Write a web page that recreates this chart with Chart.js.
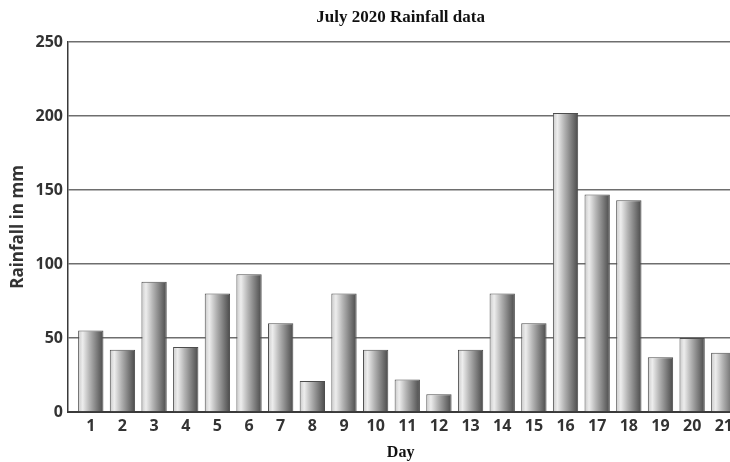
<!DOCTYPE html>
<html>
<head>
<meta charset="utf-8">
<title>July 2020 Rainfall data</title>
<script src="https://cdn.jsdelivr.net/npm/chart.js@4/dist/chart.umd.min.js"></script>
<style>
  html, body { margin: 0; padding: 0; background: #ffffff; overflow: hidden; }
  #wrap { position: relative; width: 738px; height: 462px; }
</style>
</head>
<body>
<div id="wrap"><canvas id="chart" width="738" height="462"></canvas></div>
<script>
// Daily rainfall for the first three weeks of July 2020
const days = [1, 2, 3, 4, 5, 6, 7, 8, 9, 10, 11, 12, 13, 14, 15, 16, 17, 18, 19, 20, 21];
const rainfallMm = [55, 42, 88, 44, 80, 93, 60, 21, 80, 42, 22, 12, 42, 80, 60, 202, 147, 143, 37, 50, 40];
const yTicks = [0, 50, 100, 150, 200, 250];

const chartTitle = 'July 2020 Rainfall data';
const xTitle = 'Day';
const yTitle = 'Rainfall in mm';

// Horizontal shaded fill for each bar: light on the left, dark on the right
function barShade(ctx) {
  const chart = ctx.chart;
  const xs = chart.scales && chart.scales.x;
  if (!xs || ctx.type !== 'data') return '#a0a0a0';
  const day = days[ctx.dataIndex];
  const cx = xs.getPixelForValue(day);
  const w = (xs.getPixelForValue(2) - xs.getPixelForValue(1)) * 0.8;
  if (!isFinite(cx) || !isFinite(w) || w <= 0) return '#a0a0a0';
  const g = chart.ctx.createLinearGradient(cx - w / 2, 0, cx + w / 2, 0);
  g.addColorStop(0.0, '#c9c9c9');
  g.addColorStop(0.18, '#ededed');
  g.addColorStop(0.45, '#b4b4b4');
  g.addColorStop(0.8, '#707070');
  g.addColorStop(1.0, '#4a4a4a');
  return g;
}

new Chart(document.getElementById('chart'), {
  type: 'bar',
  data: {
    datasets: [{
      data: days.map((d, i) => ({ x: d, y: rainfallMm[i] })),
      backgroundColor: barShade,
      borderColor: '#4d4d4d',
      borderWidth: 1,
      borderSkipped: 'bottom',
      barPercentage: 1.0,
      categoryPercentage: 0.8
    }]
  },
  options: {
    responsive: false,
    animation: false,
    events: [],
    layout: { padding: { left: 0, right: 0, top: 0, bottom: 0 } },
    plugins: {
      legend: { display: false },
      tooltip: { enabled: false },
      title: {
        display: true,
        text: chartTitle,
        fullSize: false,
        color: '#111111',
        font: { family: '"Liberation Serif", "Times New Roman", serif', size: 17, weight: 'bold' },
        padding: { top: 7, bottom: 14.6 }
      }
    },
    scales: {
      x: {
        type: 'linear',
        offset: false,
        min: 0.28,
        max: 21.3,
        afterBuildTicks: (scale) => { scale.ticks = days.map(d => ({ value: d })); },
        afterFit: (scale) => { scale.height = 50; },
        grid: { display: false, drawTicks: false, offset: false },
        border: { display: true, color: '#3a3a3a', width: 2 },
        ticks: {
          padding: 5,
          color: '#333333',
          autoSkip: false,
          maxRotation: 0,
          font: { family: '"Open Sans", "Noto Sans", sans-serif', size: 16, weight: 'bold' },
          callback: (v) => String(v)
        },
        title: {
          display: true,
          text: xTitle,
          color: '#111111',
          font: { family: '"Liberation Serif", "Times New Roman", serif', size: 16, weight: 'bold' },
          padding: { top: 2, bottom: 0 }
        }
      },
      y: {
        min: 0,
        max: 250,
        afterBuildTicks: (scale) => { scale.ticks = yTicks.map(v => ({ value: v })); },
        afterFit: (scale) => { scale.width = 68; },
        grid: {
          color: '#6e6e6e',
          lineWidth: 1.5,
          drawTicks: false
        },
        border: { display: true, color: '#3a3a3a', width: 1.5 },
        ticks: {
          padding: 5,
          color: '#333333',
          font: { family: '"Open Sans", "Noto Sans", sans-serif', size: 16, weight: 'bold' }
        },
        title: {
          display: true,
          text: yTitle,
          color: '#333333',
          font: { family: '"Open Sans", "Noto Sans", sans-serif', size: 17, weight: 'bold' },
          padding: { top: 8, bottom: 0 }
        }
      }
    }
  }
});
</script>
</body>
</html>
